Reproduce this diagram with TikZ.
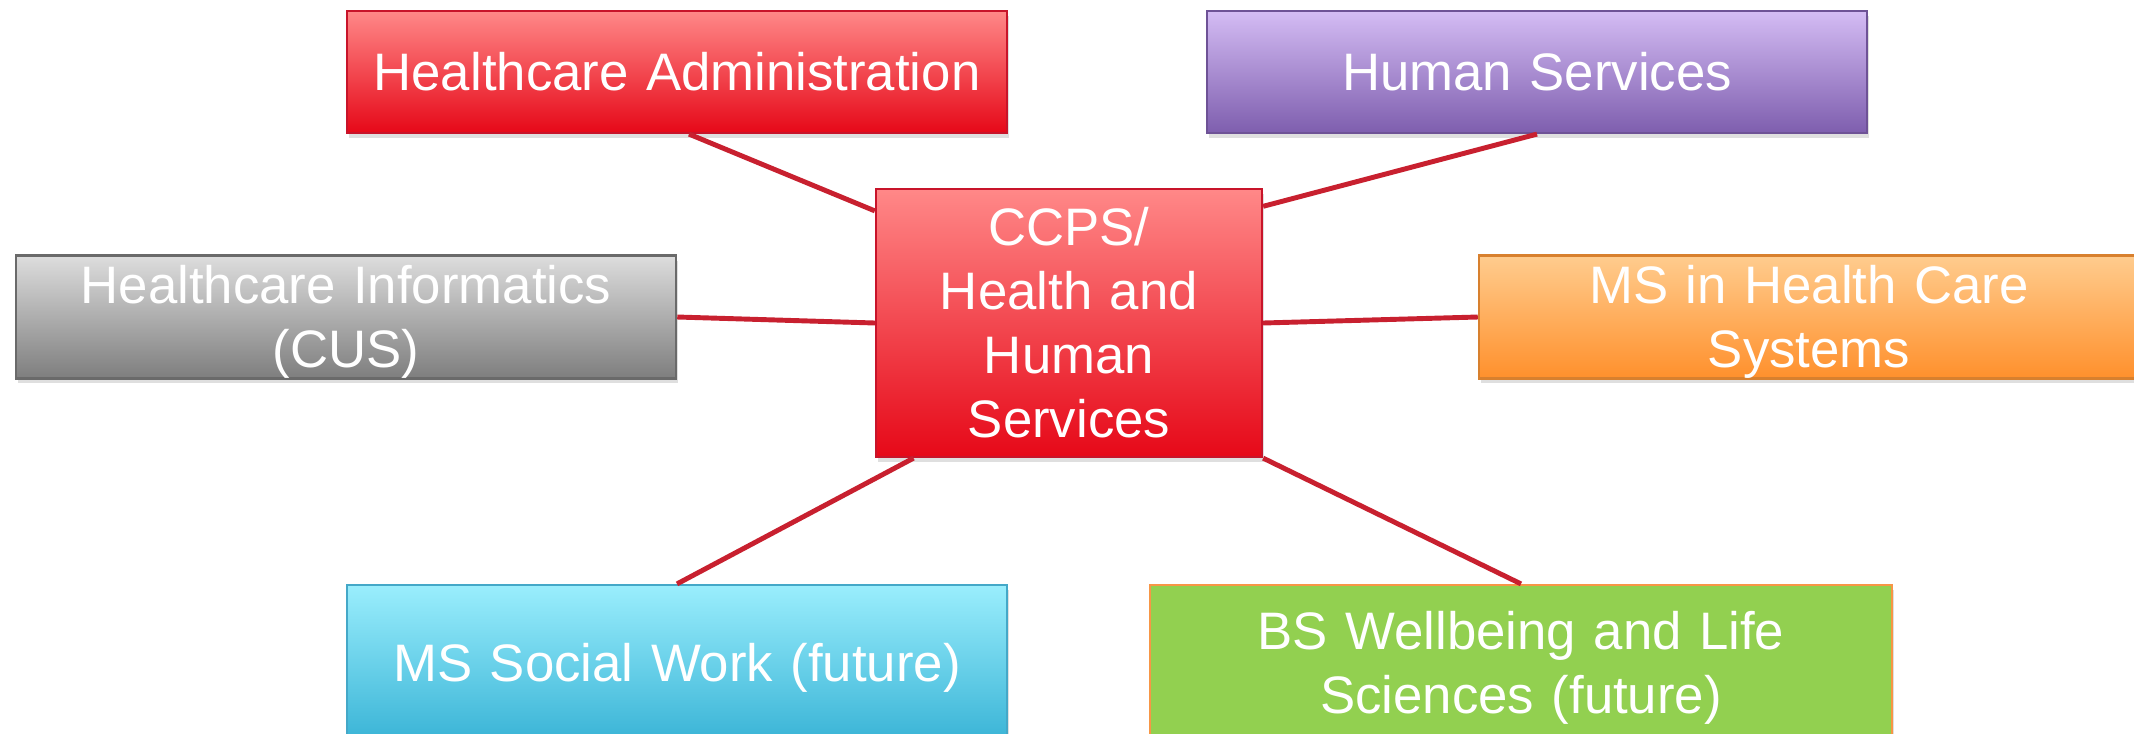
\documentclass[tikz,border=0pt]{standalone}
\usepackage{fontspec}
\setmainfont{Liberation Sans}
\usetikzlibrary{positioning, shadows}
\usepackage{xcolor}

\definecolor{redtop}{HTML}{FF8888}
\definecolor{redbot}{HTML}{E60818}
\definecolor{redline}{HTML}{C8142A}
\definecolor{purtop}{HTML}{D4BCF4}
\definecolor{purbot}{HTML}{7E5EAE}
\definecolor{purline}{HTML}{6E5296}
\definecolor{greytop}{HTML}{DDDDDD}
\definecolor{greybot}{HTML}{7E7E7E}
\definecolor{greyline}{HTML}{6A6A6A}
\definecolor{orgtop}{HTML}{FFCC8E}
\definecolor{orgbot}{HTML}{FF902C}
\definecolor{orgline}{HTML}{D8802E}
\definecolor{cyantop}{HTML}{9AEEFD}
\definecolor{cyanbot}{HTML}{3AB4D6}
\definecolor{cyanline}{HTML}{44A8C8}
\definecolor{leafgreen}{HTML}{92D050}
\definecolor{leafline}{HTML}{F79646}
\definecolor{linkred}{HTML}{C8202F}

\newcommand{\linestrut}{\rule[-0.212em]{0pt}{1.117em}}

\tikzset{
  prog/.style={rectangle, draw, line width=0.6pt, minimum width=6.6cm,
    minimum height=1.22cm, inner sep=0pt, text width=6.4cm, align=center,
    text=white, font=\fontsize{15}{18.2}\selectfont,
    execute at begin node=\linestrut, execute at end node=\linestrut,
    drop shadow={opacity=0.25, shadow xshift=0.02cm, shadow yshift=-0.05cm}},
  link/.style={draw=linkred, line width=1.4pt},
}

\begin{document}
\begin{tikzpicture}[x=0.01cm, y=-0.01cm]
    \path[use as bounding box, fill=white] (0,0) rectangle (2134,733);
    % outer programmes
    \node[prog, top color=redtop, bottom color=redbot, draw=redline]
        (admin) at (677,72) {Healthcare Administration};
    \node[prog, top color=purtop, bottom color=purbot, draw=purline]
        (human) at (1537,72) {Human Services};
    \node[prog, top color=greytop, bottom color=greybot, draw=greyline]
        (informatics) at (346,317) {Healthcare Informatics\\(CUS)};
    \node[prog, top color=orgtop, bottom color=orgbot, draw=orgline]
        (systems) at (1809,317) {MS in Health Care\\Systems};
    \node[prog, minimum height=1.56cm, top color=cyantop, bottom color=cyanbot, draw=cyanline]
        (socialwork) at (677,663) {MS Social Work (future)};
    \node[prog, minimum width=7.42cm, minimum height=1.56cm, text width=7.2cm,
        fill=leafgreen, draw=leafline]
        (wellbeing) at (1521,663) {BS Wellbeing and Life\\Sciences (future)};
    % centre
    \node[prog, minimum width=3.86cm, minimum height=2.68cm, text width=3.6cm,
        top color=redtop, bottom color=redbot, draw=redline]
        (ccps) at (1069,323) {CCPS/\\Health and\\Human\\Services};
    % links
    \draw[link] ([xshift=0.12cm]admin.south) -- (ccps.150);
    \draw[link] (human.south) -- (ccps.31);
    \draw[link] (informatics.east) -- (ccps.west);
    \draw[link] (ccps.east) -- (systems.west);
    \draw[link] (ccps.221) -- (socialwork.north);
    \draw[link] (ccps.south east) -- (wellbeing.north);
\end{tikzpicture}
\end{document}
